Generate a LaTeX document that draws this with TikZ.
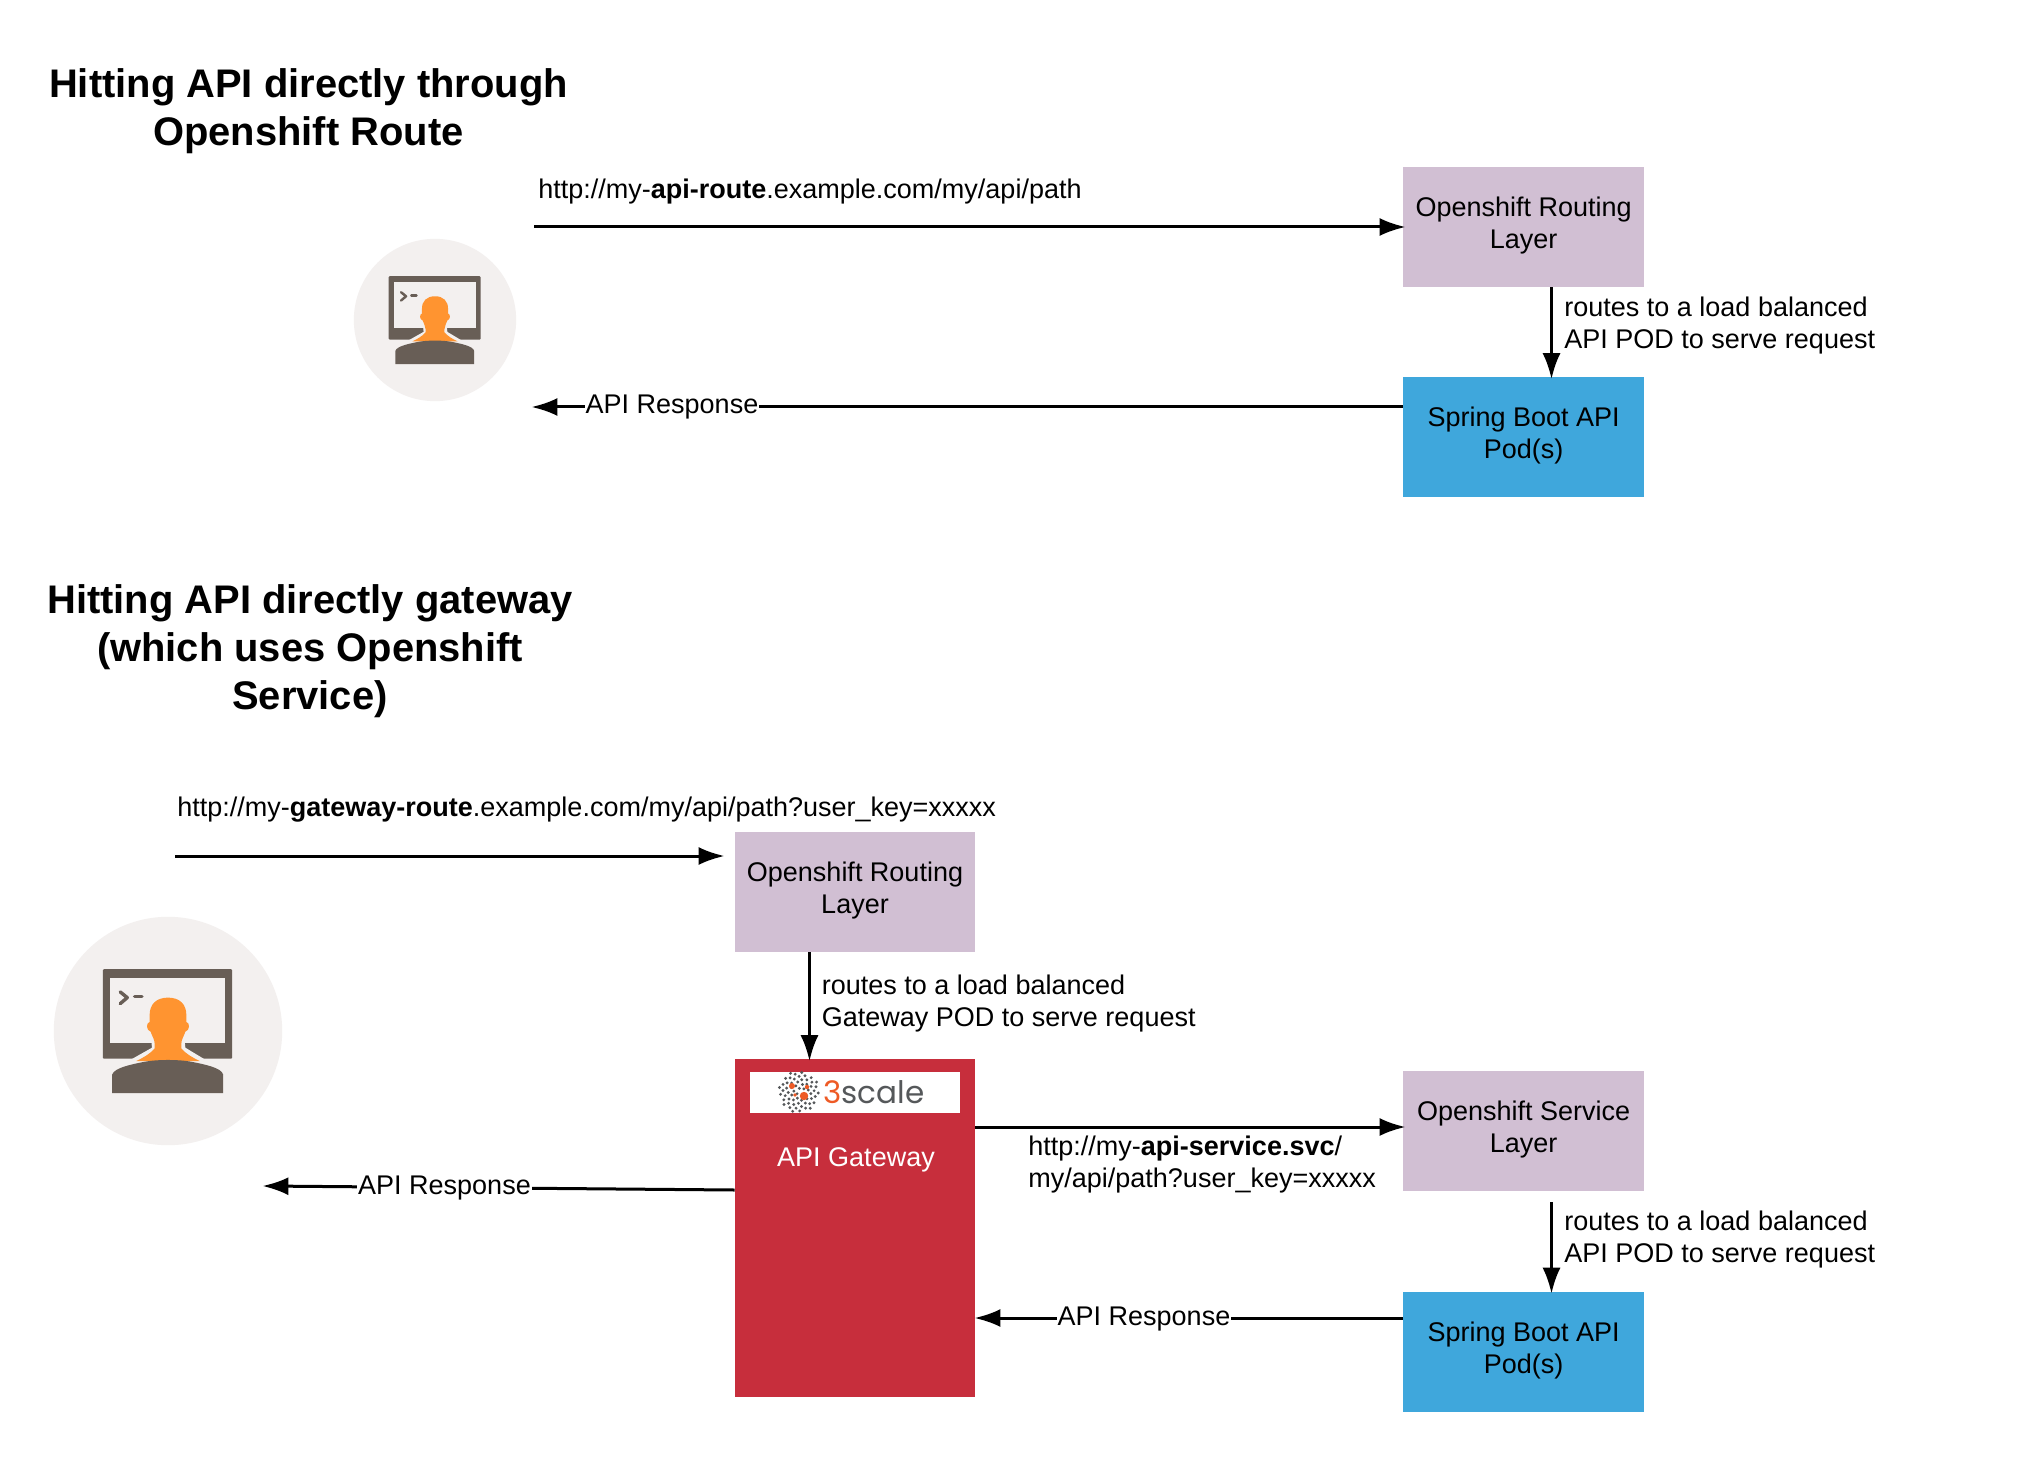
\documentclass[tikz,border=0pt]{standalone}
\usepackage{fontspec}
\setmainfont{Liberation Sans}
\newfontfamily\logofont{Poppins}
\usetikzlibrary{arrows.meta,calc}
\definecolor{lilac}{HTML}{D1BFD3}
\definecolor{skyb}{HTML}{3FA7DC}
\definecolor{gwred}{HTML}{C72E3C}
\definecolor{iconbg}{HTML}{F3F0EF}
\definecolor{icondk}{HTML}{685E56}
\definecolor{iconor}{HTML}{FF9430}
\definecolor{logogr}{HTML}{55585A}
\definecolor{logoor}{HTML}{EE5A25}
\tikzset{
  x=0.5pt,y=-0.5pt,
  box/.style={minimum width=120.3pt,minimum height=60pt,inner sep=0pt,align=center,font=\fontsize{13.5}{16}\selectfont},
  lilacbox/.style={box,fill=lilac},
  bluebox/.style={box,fill=skyb},
  headline/.style={align=center,inner sep=0pt,font=\fontsize{19.95}{24}\selectfont\bfseries},
  bodytext/.style={align=left,inner sep=0pt,anchor=west,font=\fontsize{13.5}{16}\selectfont},
  urltext/.style={inner sep=0pt,anchor=base west,font=\fontsize{13.5}{16}\selectfont},
  resp/.style={fill=white,inner xsep=0.5pt,inner ysep=1pt,font=\fontsize{13.5}{16}\selectfont},
  arr/.style={line width=1.5pt,shorten >=-1.3pt,-{Latex[length=13pt,width=9pt]}},
}
\newcommand{\usericon}[2]{% centre, radius in px
  \begin{scope}[shift={#1},x=#2*0.001462pt,y=-#2*0.001462pt]
    \fill[iconbg] (0,0) circle (342);
    \fill[icondk,rounded corners=0.5pt] (-195,-185) rectangle (192,83);
    \fill[iconbg] (-173,-159) rectangle (171,35);
    \draw[icondk,line width=#2*0.015pt,line cap=round,line join=round] (-143,-117) -- (-122,-100) -- (-143,-82);
    \draw[icondk,line width=#2*0.015pt,line cap=round] (-100,-104) -- (-78,-104);
    % light halo round neck
    \fill[iconbg] (-50,30) -- (-48,50) -- (-110,85) -- (110,85) -- (52,50) -- (50,30) -- cycle;
    % head + neck
    \fill[iconor] (0,-100)
      .. controls (-35,-100) and (-56,-80) .. (-55,-45)
      -- (-55,-27)
      .. controls (-66,-25) and (-66,-2) .. (-52,2)
      .. controls (-48,15) and (-40,25) .. (-40,38)
      -- (-40,52)
      .. controls (-55,70) and (-75,80) .. (-95,90)
      -- (95,90)
      .. controls (75,80) and (55,70) .. (40,52)
      -- (40,38)
      .. controls (40,25) and (48,15) .. (52,2)
      .. controls (66,-2) and (66,-25) .. (55,-27)
      -- (55,-45)
      .. controls (56,-80) and (35,-100) .. (0,-100) -- cycle;
    % body
    \fill[icondk] (-167,186) -- (-167,130)
      .. controls (-160,110) and (-110,100) .. (-70,92)
      .. controls (-30,85) and (30,85) .. (70,92)
      .. controls (110,100) and (160,110) .. (165,130)
      -- (165,186) -- cycle;
  \end{scope}}
\begin{document}
\begin{tikzpicture}
\useasboundingbox (0,0) rectangle (2028,1476);
\fill[white] (0,0) rectangle (2028,1476);

% titles
\node[headline] (title1) at (308.5,111) {Hitting API directly through\\Openshift Route};
\node[headline] (title2) at (310,651) {Hitting API directly gateway\\(which uses Openshift\\Service)};

% icons
\usericon{(435,320)}{81}
\usericon{(168,1031)}{114}

% boxes
\node[lilacbox] (rt1) at (1523.7,227) {Openshift Routing\\Layer\\[-12pt]};
\node[bluebox] (sb1) at (1523.7,437) {Spring Boot API\\Pod(s)\\[-12pt]};
\node[lilacbox] (rt2) at (855,892) {Openshift Routing\\Layer\\[-12pt]};
\node[lilacbox] (svc) at (1523.7,1131) {Openshift Service\\Layer\\[-12pt]};
\node[bluebox] (sb2) at (1523.7,1351.5) {Spring Boot API\\Pod(s)\\[-12pt]};
\node[fill=gwred,minimum width=120pt,minimum height=169pt,inner sep=0pt] (gw) at (855,1228) {};
\node[fill=white,minimum width=105pt,minimum height=20.5pt,inner sep=0pt] (logo) at (855,1092.5) {};
\node[text=white,inner sep=0pt,font=\fontsize{13.5}{16}\selectfont] (gwlabel) at (856,1160) {API Gateway};

% logo
\begin{scope}[shift={(799,1092)}]
  \foreach \i in {1,...,62}{
    \pgfmathsetmacro{\ang}{\i*137.508}
    \pgfmathsetmacro{\rad}{20.5*sqrt(\i/62)}
    \fill[logogr] (\ang:\rad) circle (0.8pt);
  }
  \fill[logoor] (-7,-6) circle (1.5pt);
  \fill[logoor] (8,-5) circle (1.1pt);
  \fill[logoor] (5,4) circle (2.1pt);
  \fill[logoor] (-4,3) circle (0.9pt);
\end{scope}
\node[inner sep=0pt,text=logogr,font=\logofont\fontsize{15.5}{18}\selectfont] (logotext) at (874,1092) {\textcolor{logoor}{3}scale};

% free ends
\coordinate (s1) at (534,227);
\coordinate (e2) at (534,407);
\coordinate (s3) at (175,856);
\coordinate (e4) at (265,1186);
\coordinate (d1) at (1551.5,0);
\coordinate (d2) at (809.5,0);
\coordinate (d3) at (1551.5,1202);
\coordinate (y4) at (0,1190);
\coordinate (y5) at (0,1127);
\coordinate (e6) at (977,1318);
\coordinate (e7) at (722,856);

% connectors
\draw[arr] (s1) -- (s1 -| rt1.west);
\draw[arr] (rt1.south -| d1) -- (sb1.north -| d1);
\draw[arr] (e2 -| sb1.west) -- (e2);
\draw[arr] (s3) -- (e7);
\draw[arr] (rt2.south -| d2) -- (gw.north -| d2);
\draw[arr] (y5 -| gw.east) -- (y5 -| svc.west);
\draw[arr] (d3) -- (sb2.north -| d3);
\draw[arr] (e6 -| sb2.west) -- (e6);
\draw[arr] (y4 -| gw.west) -- (e4);

% labels
\node[urltext] (url1) at (538,199) {http://my-\textbf{api-route}.example.com/my/api/path};
\node[urltext] (url2) at (177,816.5) {http://my-\textbf{gateway-route}.example.com/my/api/path?user\_key=xxxxx};
\node[bodytext] (note1) at (1564,325.5) {routes to a load balanced\\API POD to serve request};
\node[bodytext] (note2) at (821.5,1004) {routes to a load balanced\\Gateway POD to serve request};
\node[bodytext] (note3) at (1028,1165) {http://my-\textbf{api-service.svc}/\\my/api/path?user\_key=xxxxx};
\node[bodytext] (note4) at (1564,1240) {routes to a load balanced\\API POD to serve request};
\node[resp] (resp1) at (672,407) {API Response};
\node[resp] (resp2) at (444.5,1188) {API Response};
\node[resp] (resp3) at (1144,1318.5) {API Response};
\end{tikzpicture}
\end{document}
